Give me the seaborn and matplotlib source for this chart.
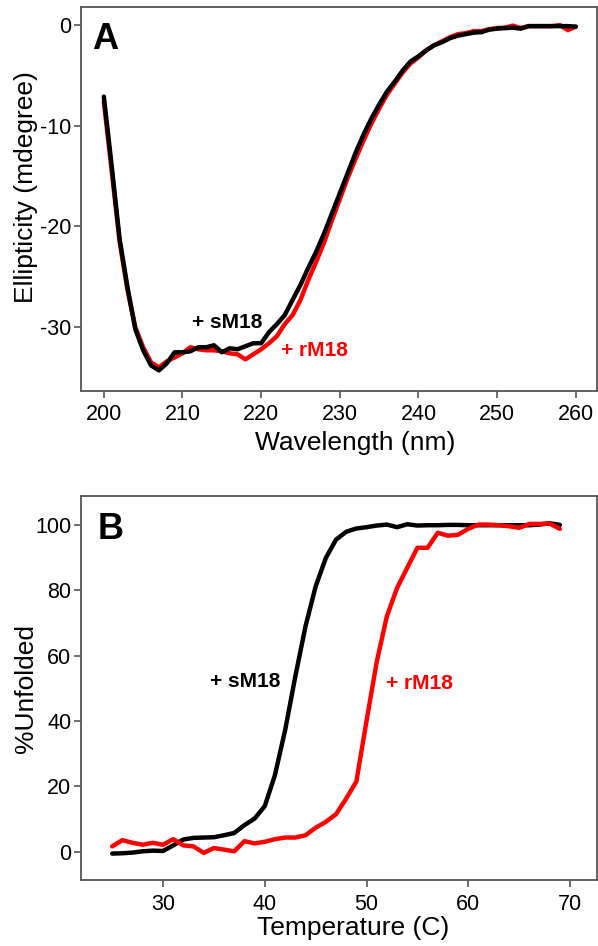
"""
CD spectra (A) and thermal melts (B) for sM18 / rM18
"""

import numpy as np
import pandas as pd
import matplotlib
matplotlib.use('Agg')
import matplotlib.pyplot as plt
import seaborn as sns

# 데이터 - panel A: CD spectrum
wavelength = list(range(200, 261))
ellip_sM18 = [-7.1, -14.0, -21.2, -26.0, -30.2, -32.3, -33.8, -34.3, -33.6, -32.5,
              -32.5, -32.4, -32.0, -32.0, -31.8, -32.5, -32.1, -32.2, -31.9, -31.6,
              -31.6, -30.5, -29.7, -28.8, -27.3, -25.8, -24.1, -22.5, -20.7, -18.7,
              -16.7, -14.7, -12.7, -10.9, -9.3, -7.9, -6.6, -5.6, -4.5, -3.6,
              -3.1, -2.5, -2.0, -1.7, -1.3, -1.05, -0.9, -0.75, -0.7, -0.45,
              -0.35, -0.3, -0.25, -0.35, -0.1, -0.1, -0.1, -0.1, -0.1, -0.1, -0.15]
ellip_rM18 = [-7.6, -14.5, -21.5, -26.3, -30.0, -32.0, -33.5, -34.0, -33.4, -33.0,
              -32.6, -32.0, -32.2, -32.3, -32.3, -32.4, -32.6, -32.7, -33.2, -32.7,
              -32.2, -31.6, -30.9, -29.7, -28.8, -27.3, -25.3, -23.5, -21.6, -19.4,
              -17.3, -15.2, -13.3, -11.5, -9.8, -8.3, -6.9, -5.8, -4.7, -3.8,
              -3.2, -2.5, -2.0, -1.6, -1.2, -0.9, -0.8, -0.6, -0.6, -0.4,
              -0.3, -0.25, -0.05, -0.3, -0.1, -0.1, -0.1, -0.1, 0.0, -0.5, -0.15]

# 데이터 - panel B: thermal melt
temperature = list(range(25, 70))
unf_sM18 = [-0.5, -0.4, -0.2, 0.2, 0.4, 0.3, 2.0, 3.8, 4.3, 4.4,
            4.5, 5.1, 5.8, 8.2, 10.2, 14.0, 23.5, 37.2, 53.6, 68.9,
            81.1, 89.8, 95.4, 97.8, 98.8, 99.2, 99.7, 100.0, 99.2, 100.1,
            99.7, 99.8, 99.8, 99.9, 99.9, 99.8, 99.8, 99.8, 99.8, 99.8,
            99.8, 99.8, 100.0, 100.4, 99.9]
unf_rM18 = [1.7, 3.6, 2.8, 2.2, 2.8, 2.2, 3.9, 2.0, 1.7, -0.3,
            1.2, 0.7, 0.2, 3.3, 2.6, 3.1, 3.9, 4.4, 4.4, 5.1,
            7.4, 9.2, 11.5, 16.3, 21.5, 40.0, 58.0, 72.0, 80.6, 86.8,
            92.9, 92.9, 97.5, 96.6, 96.9, 98.7, 100.0, 100.0, 99.8, 99.5,
            99.0, 100.2, 100.2, 100.3, 98.7]

df_cd = pd.DataFrame({'wl': wavelength, 'sM18': ellip_sM18, 'rM18': ellip_rM18})
df_melt = pd.DataFrame({'T': temperature, 'sM18': unf_sM18, 'rM18': unf_rM18})

sns.set_style('ticks')
plt.rcParams['font.family'] = ['Liberation Sans', 'DejaVu Sans']
plt.rcParams['axes.unicode_minus'] = False
plt.rcParams['text.color'] = 'black'
plt.rcParams['axes.labelcolor'] = 'black'

fig, axes = plt.subplots(2, 1, figsize=(5.98, 9.46), dpi=100)
fig.subplots_adjust(left=0.1355, right=0.9983, top=0.9926, bottom=0.0698, hspace=0.276)

spine_col = '#555555'
lw = 3.2

# A: CD spectrum (black on top)
ax = axes[0]
sns.lineplot(data=df_cd, x='wl', y='rM18', color='#ff0000', linewidth=lw, ax=ax)
sns.lineplot(data=df_cd, x='wl', y='sM18', color='black', linewidth=lw, ax=ax)
ax.set_xlim(197.1, 262.7)
ax.set_ylim(-36.3, 1.8)
ax.set_xticks([200, 210, 220, 230, 240, 250, 260])
ax.set_yticks([-30, -20, -10, 0])
ax.set_xlabel('Wavelength (nm)', fontsize=19)
ax.set_ylabel('Ellipticity (mdegree)', fontsize=19)
ax.xaxis.set_label_coords(0.531, -0.106)
ax.yaxis.set_label_coords(-0.083, 0.53)
ax.text(211.2, -29.5, '+ sM18', color='black', fontsize=15, fontweight='bold', va='center')
ax.text(222.5, -32.3, '+ rM18', color='#ff0000', fontsize=15, fontweight='bold', va='center')
ax.text(0.022, 0.915, 'A', transform=ax.transAxes, fontsize=26, fontweight='bold', va='center')

# B: thermal melt
ax = axes[1]
sns.lineplot(data=df_melt, x='T', y='sM18', color='black', linewidth=lw, ax=ax)
sns.lineplot(data=df_melt, x='T', y='rM18', color='#ff0000', linewidth=lw, ax=ax)
ax.set_xlim(21.94, 72.65)
ax.set_ylim(-8.56, 108.6)
ax.set_xticks([30, 40, 50, 60, 70])
ax.set_yticks([0, 20, 40, 60, 80, 100])
ax.set_xlabel('Temperature (C)', fontsize=19)
ax.set_ylabel('%Unfolded', fontsize=19)
ax.xaxis.set_label_coords(0.527, -0.095)
ax.yaxis.set_label_coords(-0.083, 0.5)
ax.text(34.6, 52.1, '+ sM18', color='black', fontsize=15, fontweight='bold', va='center')
ax.text(51.9, 51.6, '+ rM18', color='#ff0000', fontsize=15, fontweight='bold', va='center')
ax.text(0.032, 0.914, 'B', transform=ax.transAxes, fontsize=26, fontweight='bold', va='center')

for ax in axes:
    for s in ax.spines.values():
        s.set_visible(True)
        s.set_color(spine_col)
        s.set_linewidth(1.3)
    ax.tick_params(direction='out', length=5, width=1.2, color=spine_col,
                   labelsize=15.5, labelcolor='black')
    ax.tick_params(axis='x', pad=5)
    ax.tick_params(axis='y', pad=2)
    ax.grid(False)

plt.savefig('out.png', dpi=100)
